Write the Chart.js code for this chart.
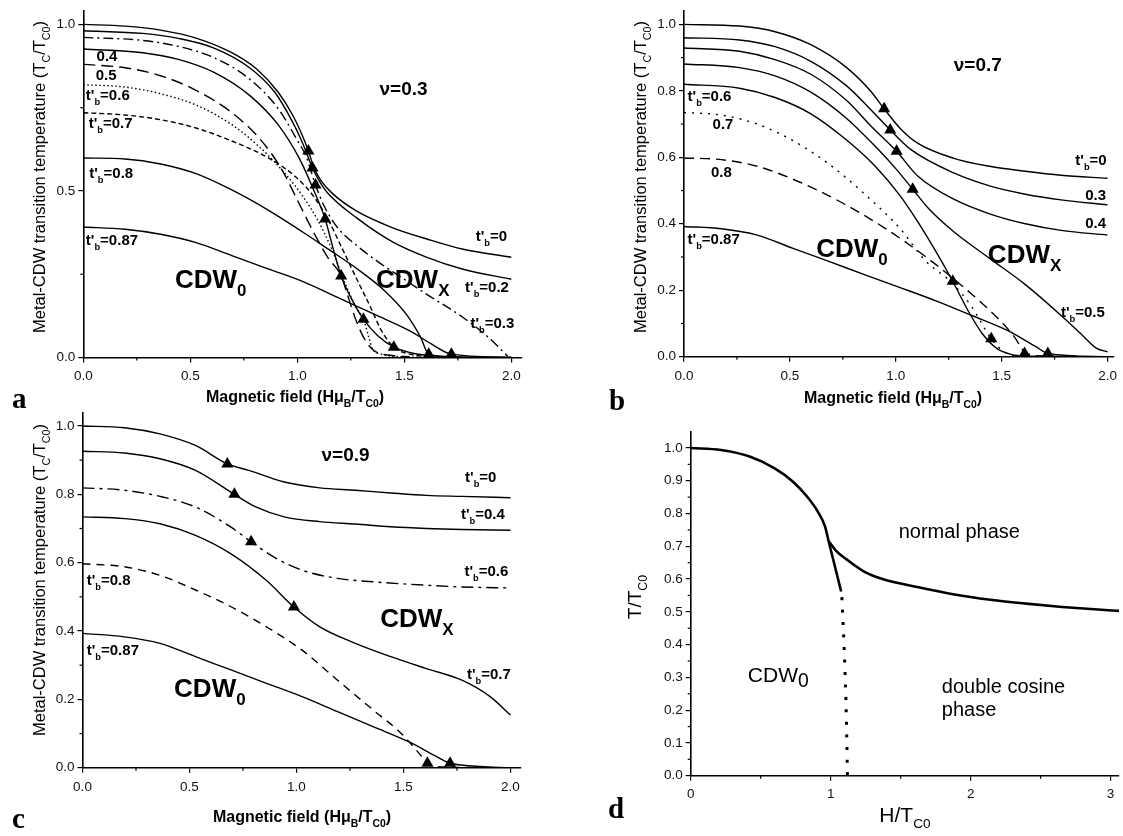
<!DOCTYPE html>
<html><head><meta charset="utf-8">
<script src="https://cdn.jsdelivr.net/npm/chart.js@4.4.1/dist/chart.umd.min.js"></script>
<style>
html,body{margin:0;padding:0;background:#fff;width:1123px;height:836px;overflow:hidden}
canvas{position:absolute;left:0;top:0}
</style></head><body>
<canvas id="ca" width="1123" height="836"></canvas>
<canvas id="cb" width="1123" height="836"></canvas>
<canvas id="cc" width="1123" height="836"></canvas>
<canvas id="cd" width="1123" height="836"></canvas>
<script>
// ---------- DATA ----------
// Panel a (nu = 0.3)
const A_XTICKS = [0, 0.5, 1.0, 1.5, 2.0];
const A_XMINOR = [0.25, 0.75, 1.25, 1.75];
const A_YTICKS = [0, 0.5, 1.0];
const A_YMINOR = [0.25, 0.75];
const A_TB0  = [[0,1.0],[0.195,0.995],[0.361,0.983],[0.527,0.959],[0.694,0.915],[0.81,0.866],[0.91,0.797],[0.978,0.728],[1.028,0.66],[1.052,0.62],[1.077,0.571],[1.11,0.532],[1.16,0.495],[1.276,0.44],[1.443,0.39],[1.609,0.355],[1.775,0.325],[2.0,0.301]];
const A_TB02 = [[0,0.981],[0.278,0.973],[0.444,0.958],[0.611,0.929],[0.777,0.87],[0.894,0.797],[0.977,0.708],[1.027,0.64],[1.071,0.569],[1.101,0.532],[1.143,0.493],[1.276,0.42],[1.443,0.348],[1.609,0.3],[1.775,0.265],[2.0,0.235]];
const A_TB03 = [[0,0.961],[0.278,0.952],[0.444,0.934],[0.611,0.9],[0.777,0.836],[0.91,0.748],[0.993,0.66],[1.043,0.601],[1.085,0.518],[1.126,0.454],[1.193,0.386],[1.276,0.337],[1.376,0.288],[1.492,0.238],[1.609,0.188],[1.775,0.12],[1.892,0.061],[1.983,0.004]];
const A_TB04 = [[0,0.926],[0.278,0.915],[0.444,0.895],[0.611,0.856],[0.777,0.787],[0.91,0.699],[1.01,0.597],[1.077,0.502],[1.13,0.416],[1.168,0.326],[1.205,0.245],[1.251,0.179],[1.309,0.115],[1.376,0.065],[1.451,0.031],[1.526,0.015],[1.614,0.006],[1.775,0.002],[2.0,0]];
const A_TB05 = [[0,0.88],[0.195,0.87],[0.361,0.846],[0.527,0.802],[0.694,0.735],[0.827,0.655],[0.927,0.565],[1.01,0.46],[1.077,0.375],[1.143,0.3],[1.205,0.245],[1.235,0.187],[1.276,0.109],[1.318,0.051],[1.36,0.02],[1.443,0.006],[1.526,0.002]];
const A_TB06 = [[0,0.819],[0.195,0.812],[0.361,0.792],[0.527,0.758],[0.694,0.699],[0.827,0.63],[0.943,0.552],[1.027,0.483],[1.093,0.415],[1.16,0.327],[1.226,0.219],[1.276,0.149],[1.309,0.115],[1.334,0.061],[1.351,0.026],[1.393,0.01],[1.443,0.004],[1.609,0]];
const A_TB07 = [[0,0.735],[0.195,0.728],[0.361,0.714],[0.527,0.689],[0.694,0.65],[0.86,0.601],[0.993,0.542],[1.077,0.483],[1.143,0.415],[1.21,0.327],[1.276,0.238],[1.343,0.15],[1.393,0.081],[1.451,0.031],[1.526,0.01],[1.609,0.002]];
const A_TB08 = [[0,0.599],[0.195,0.596],[0.361,0.581],[0.527,0.552],[0.694,0.503],[0.86,0.444],[1.027,0.376],[1.143,0.326],[1.276,0.268],[1.409,0.2],[1.509,0.13],[1.576,0.061],[1.614,0.01],[1.775,0],[2.0,0]];
const A_TB087 = [[0,0.392],[0.195,0.385],[0.361,0.37],[0.527,0.345],[0.694,0.306],[0.86,0.267],[1.027,0.228],[1.193,0.179],[1.359,0.13],[1.526,0.08],[1.626,0.041],[1.72,0.01],[2.0,0]];
const A_TRI = [[1.052,0.62],[1.071,0.569],[1.085,0.518],[1.13,0.416],[1.205,0.245],[1.309,0.115],[1.451,0.031],[1.614,0.01],[1.72,0.01]];

// Panel b (nu = 0.7)
const B_XTICKS = [0, 0.5, 1.0, 1.5, 2.0];
const B_XMINOR = [0.25, 0.75, 1.25, 1.75];
const B_YTICKS = [0, 0.2, 0.4, 0.6, 0.8, 1.0];
const B_YMINOR = [0.1, 0.3, 0.5, 0.7, 0.9];
const B_TB0  = [[0,1.0],[0.262,0.995],[0.43,0.978],[0.599,0.939],[0.768,0.87],[0.886,0.796],[0.945,0.746],[1.021,0.687],[1.105,0.642],[1.274,0.597],[1.443,0.573],[1.612,0.558],[1.78,0.546],[2.0,0.537]];
const B_TB03 = [[0,0.96],[0.262,0.953],[0.43,0.933],[0.599,0.889],[0.768,0.815],[0.886,0.741],[0.974,0.682],[1.072,0.623],[1.274,0.553],[1.443,0.514],[1.612,0.489],[1.781,0.472],[2.0,0.457]];
const B_TB04 = [[0,0.929],[0.262,0.919],[0.43,0.894],[0.599,0.85],[0.768,0.771],[0.886,0.692],[1.004,0.618],[1.105,0.543],[1.274,0.474],[1.443,0.43],[1.612,0.4],[1.781,0.38],[2.0,0.366]];
const B_TB05 = [[0,0.881],[0.262,0.87],[0.43,0.845],[0.599,0.796],[0.768,0.717],[0.903,0.633],[1.004,0.563],[1.08,0.504],[1.156,0.445],[1.274,0.376],[1.443,0.296],[1.612,0.217],[1.781,0.124],[1.882,0.064],[1.949,0.025],[2.0,0.015]];
const B_TB06 = [[0,0.82],[0.262,0.808],[0.43,0.78],[0.599,0.731],[0.768,0.652],[0.903,0.573],[1.021,0.484],[1.105,0.405],[1.19,0.316],[1.269,0.227],[1.342,0.138],[1.409,0.069],[1.477,0.025],[1.544,0.007],[1.612,0.002],[2.0,0]];
const B_TB07 = [[0,0.735],[0.177,0.727],[0.346,0.70],[0.515,0.65],[0.684,0.58],[0.852,0.49],[1.021,0.385],[1.138,0.29],[1.269,0.22],[1.359,0.15],[1.451,0.054],[1.511,0.015],[1.561,0.004],[2.0,0]];
const B_TB08 = [[0,0.598],[0.177,0.593],[0.346,0.573],[0.515,0.534],[0.684,0.484],[0.852,0.425],[1.021,0.356],[1.19,0.277],[1.359,0.188],[1.477,0.119],[1.561,0.059],[1.608,0.015],[1.7,0.002],[2.0,0]];
const B_TB087 = [[0,0.392],[0.177,0.385],[0.346,0.366],[0.515,0.326],[0.684,0.287],[0.852,0.247],[1.021,0.208],[1.19,0.168],[1.359,0.124],[1.527,0.079],[1.662,0.03],[1.718,0.01],[2.0,0]];
const B_TRI = [[0.945,0.746],[0.974,0.682],[1.004,0.618],[1.08,0.504],[1.269,0.227],[1.451,0.054],[1.608,0.01],[1.718,0.01]];

// Panel c (nu = 0.9)
const C_XTICKS = [0, 0.5, 1.0, 1.5, 2.0];
const C_XMINOR = [0.25, 0.75, 1.25, 1.75];
const C_YTICKS = [0, 0.2, 0.4, 0.6, 0.8, 1.0];
const C_YMINOR = [0.1, 0.3, 0.5, 0.7, 0.9];
const C_TB0  = [[0,1.0],[0.196,0.995],[0.362,0.977],[0.528,0.943],[0.677,0.889],[0.777,0.87],[0.943,0.836],[1.109,0.819],[1.275,0.812],[1.441,0.804],[1.607,0.797],[1.773,0.794],[2.0,0.79]];
const C_TB04 = [[0,0.926],[0.196,0.921],[0.362,0.904],[0.528,0.87],[0.71,0.8],[0.81,0.763],[0.943,0.734],[1.109,0.72],[1.275,0.713],[1.441,0.705],[1.607,0.7],[1.773,0.697],[2.0,0.695]];
const C_TB06 = [[0,0.819],[0.196,0.812],[0.362,0.794],[0.528,0.763],[0.694,0.704],[0.788,0.661],[0.893,0.617],[1.026,0.578],[1.192,0.554],[1.358,0.544],[1.607,0.534],[1.773,0.529],[2.0,0.526]];
const C_TB07 = [[0,0.734],[0.196,0.729],[0.362,0.714],[0.528,0.68],[0.694,0.626],[0.86,0.548],[0.988,0.47],[1.109,0.412],[1.275,0.364],[1.441,0.325],[1.607,0.29],[1.773,0.256],[1.905,0.208],[2.0,0.154]];
const C_TB08 = [[0,0.597],[0.196,0.588],[0.362,0.563],[0.528,0.52],[0.694,0.471],[0.86,0.412],[1.026,0.344],[1.192,0.256],[1.358,0.169],[1.49,0.1],[1.573,0.042],[1.612,0.013],[1.7,0.002],[2.0,0]];
const C_TB087 = [[0,0.393],[0.196,0.383],[0.362,0.364],[0.528,0.325],[0.694,0.286],[0.86,0.247],[1.026,0.208],[1.192,0.164],[1.358,0.12],[1.524,0.076],[1.657,0.032],[1.718,0.013],[2.0,0]];
const C_TRI = [[0.677,0.889],[0.71,0.80],[0.788,0.661],[0.988,0.47],[1.612,0.013],[1.718,0.013]];

// Panel d (phase diagram)
const D_XTICKS = [0, 1, 2, 3];
const D_XMINOR = [0.5, 1.5, 2.5];
const D_YTICKS = [0, 0.1, 0.2, 0.3, 0.4, 0.5, 0.6, 0.7, 0.8, 0.9, 1.0];
const D_YMINOR = [0.05, 0.15, 0.25, 0.35, 0.45, 0.55, 0.65, 0.75, 0.85, 0.95];
const D_UPPER = [[0,1.0],[0.216,0.994],[0.421,0.974],[0.6,0.938],[0.729,0.898],[0.831,0.852],[0.908,0.806],[0.96,0.76],[0.985,0.716]];
const D_NORMAL = [[0.985,0.716],[1.037,0.687],[1.114,0.66],[1.242,0.622],[1.37,0.600],[1.627,0.575],[1.884,0.553],[2.14,0.537],[2.397,0.525],[2.653,0.515],[2.91,0.507],[3.06,0.503]];
const D_BRANCH = [[0.985,0.716],[1.075,0.562]];
const D_DOTTED = [[1.08,0.545],[1.1,0.35],[1.112,0.18],[1.12,0.0]];

// ---------- RENDERING ----------
const FAM = '"Liberation Sans", Arial, Helvetica, sans-serif';
const W = 1123, H = 836, YW = 50, XH = 30;

function parseRich(s){
  const parts=[]; const re=/_\{([^}]*)\}/g; let last=0, m;
  while((m=re.exec(s))){ if(m.index>last) parts.push({t:s.slice(last,m.index)}); parts.push({t:m[1],sub:true}); last=re.lastIndex; }
  if(last<s.length) parts.push({t:s.slice(last)});
  return parts;
}
function richW(ctx, parts, size, weight, subR){
  let w=0; for(const p of parts){ ctx.font=`${weight} ${p.sub?size*subR:size}px ${FAM}`; w+=ctx.measureText(p.t).width; } return w;
}
function drawRich(ctx, x, y, s, size, weight, subR, subDy, align){
  const parts=parseRich(s); let cx=x;
  if(align==='center') cx = x - richW(ctx,parts,size,weight,subR)/2;
  for(const p of parts){
    const sz=p.sub?size*subR:size;
    ctx.font=`${weight} ${sz}px ${FAM}`;
    ctx.fillText(p.t,cx,y+(p.sub?subDy*size:0));
    cx+=ctx.measureText(p.t).width;
  }
}

function buildPanel(id, P){
  const ds = P.curves.map(c => ({
    data: c.pts.map(p=>({x:p[0], y:p[1]})),
    borderColor:'#000', borderWidth: c.w || 1.4, borderDash: c.dash || [],
    borderCapStyle: c.cap || 'butt', borderJoinStyle:'round',
    pointRadius:0, fill:false, cubicInterpolationMode: c.straight ? 'default' : 'monotone', tension: 0
  }));
  if(P.tri) ds.push({
    data: P.tri.map(p=>({x:p[0], y:p[1]})), showLine:false,
    pointStyle:'triangle', pointRadius:7, pointBackgroundColor:'#000', pointBorderColor:'#000', pointBorderWidth:0
  });
  const decor = {
    id:'decor'+id,
    afterDraw(chart){
      const ctx=chart.ctx, a=chart.chartArea, xs=chart.scales.x, ys=chart.scales.y;
      ctx.save();
      ctx.strokeStyle='#000'; ctx.lineWidth=1.2;
      for(const v of P.xMinor){ const px=xs.getPixelForValue(v); ctx.beginPath(); ctx.moveTo(px,a.bottom); ctx.lineTo(px,a.bottom+3); ctx.stroke(); }
      for(const v of P.yMinor){ const py=ys.getPixelForValue(v); ctx.beginPath(); ctx.moveTo(a.left-3,py); ctx.lineTo(a.left,py); ctx.stroke(); }
      ctx.fillStyle='#000'; ctx.textBaseline='alphabetic'; ctx.textAlign='left';
      for(const L of P.labels){
        const px=xs.getPixelForValue(L.x); let py=ys.getPixelForValue(L.y);
        if(!L.base) py += 0.36*L.size;
        drawRich(ctx,px,py,L.s,L.size,L.w||'bold',L.subR||0.62,L.subDy||0.33,'left');
      }
      for(const T of P.titles){
        ctx.save(); ctx.translate(T.x,T.y); if(T.rot) ctx.rotate(-Math.PI/2);
        drawRich(ctx,0,0,T.s,T.size,T.w||'normal',T.subR||0.65,T.subDy||0.3,'center');
        ctx.restore();
      }
      ctx.font='bold 29px "Liberation Serif", "Times New Roman", serif';
      ctx.fillText(P.letter.t, P.letter.x, P.letter.y);
      ctx.restore();
    }
  };
  const A = P.area;
  return new Chart(document.getElementById(id), {
    type:'line',
    data:{datasets:ds},
    options:{
      responsive:false, animation:false, devicePixelRatio:1, events:[],
      layout:{padding:{left:A.l-YW, top:A.t, right:W-A.r, bottom:H-A.b-XH}},
      plugins:{legend:{display:false}, tooltip:{enabled:false}},
      scales:{
        x:{type:'linear', min:P.xmin, max:P.xmax,
           afterBuildTicks:s=>{ s.ticks=P.xTicks.map(v=>({value:v})); },
           afterFit:s=>{ s.height=XH; },
           grid:{display:true, drawOnChartArea:false, drawTicks:true, tickLength:5, color:'#000', lineWidth:1.2},
           border:{display:true, color:'#000', width:1.6},
           ticks:{font:{family:FAM, size:13.5}, color:'#111', padding:P.xPad||6, maxRotation:0, autoSkip:false,
                  callback:v=>Number(v).toFixed(P.xDec)}},
        y:{type:'linear', min:0, max:P.ymax,
           afterBuildTicks:s=>{ s.ticks=P.yTicks.map(v=>({value:v})); },
           afterFit:s=>{ s.width=YW; },
           grid:{display:true, drawOnChartArea:false, drawTicks:true, tickLength:5, color:'#000', lineWidth:1.2},
           border:{display:true, color:'#000', width:1.6},
           ticks:{font:{family:FAM, size:13.5}, color:'#111', padding:3, autoSkip:false,
                  callback:v=>Number(v).toFixed(1)}}
      }
    },
    plugins:[decor]
  });
}

const XT_TITLE = 'Magnetic field (Hμ_{B}/T_{C0})';
const YT_TITLE = 'Metal-CDW transition temperature (T_{C}/T_{C0})';

buildPanel('ca', {
  area:{l:83.3, t:4.1, r:522, b:357.5}, xmin:0, xmax:2.05, ymax:1.04, xDec:1,
  xTicks:A_XTICKS, xMinor:A_XMINOR, yTicks:A_YTICKS, yMinor:A_YMINOR,
  curves:[
    {pts:A_TB0},{pts:A_TB02},{pts:A_TB03, dash:[10,4,2,4]},{pts:A_TB04},
    {pts:A_TB05, dash:[12,6]},{pts:A_TB06, dash:[1.5,2.5]},{pts:A_TB07, dash:[5,3]},
    {pts:A_TB08},{pts:A_TB087}
  ],
  tri:A_TRI,
  labels:[
    {x:0.062,y:0.905,s:'0.4',size:15},{x:0.058,y:0.848,s:'0.5',size:15},
    {x:0.012,y:0.789,s:"t'_{b}=0.6",size:15},{x:0.025,y:0.704,s:"t'_{b}=0.7",size:15},
    {x:0.028,y:0.556,s:"t'_{b}=0.8",size:15},{x:0.012,y:0.353,s:"t'_{b}=0.87",size:15},
    {x:1.834,y:0.365,s:"t'_{b}=0",size:15},{x:1.784,y:0.213,s:"t'_{b}=0.2",size:15},
    {x:1.809,y:0.105,s:"t'_{b}=0.3",size:15},
    {x:1.384,y:0.809,s:'ν=0.3',size:19},
    {x:0.428,y:0.237,s:'CDW_{0}',size:26,subR:0.65,subDy:0.3},
    {x:1.368,y:0.237,s:'CDW_{X}',size:26,subR:0.65,subDy:0.3}
  ],
  titles:[
    {x:295,y:401.7,s:XT_TITLE,size:16,w:'bold'},
    {x:45,y:177,s:YT_TITLE,size:16.5,rot:true}
  ],
  letter:{t:'a',x:12,y:408}
});

buildPanel('cb', {
  area:{l:684, t:5.8, r:1116.2, b:356.7}, xmin:0, xmax:2.03, ymax:1.04, xDec:1,
  xTicks:B_XTICKS, xMinor:B_XMINOR, yTicks:B_YTICKS, yMinor:B_YMINOR,
  curves:[
    {pts:B_TB0},{pts:B_TB03},{pts:B_TB04},{pts:B_TB05},{pts:B_TB06},
    {pts:B_TB07, dash:[2,6]},{pts:B_TB08, dash:[10,6]},{pts:B_TB087}
  ],
  tri:B_TRI,
  labels:[
    {x:1.274,y:0.881,s:'ν=0.7',size:19},
    {x:0.017,y:0.786,s:"t'_{b}=0.6",size:15},{x:0.135,y:0.702,s:'0.7',size:15},
    {x:0.127,y:0.558,s:'0.8',size:15},{x:0.017,y:0.354,s:"t'_{b}=0.87",size:15},
    {x:1.848,y:0.593,s:"t'_{b}=0",size:15},{x:1.895,y:0.487,s:'0.3',size:15},
    {x:1.895,y:0.403,s:'0.4',size:15},{x:1.78,y:0.135,s:"t'_{b}=0.5",size:15},
    {x:0.624,y:0.329,s:'CDW_{0}',size:26,subR:0.65,subDy:0.3},
    {x:1.435,y:0.311,s:'CDW_{X}',size:26,subR:0.65,subDy:0.3}
  ],
  titles:[
    {x:893,y:403,s:XT_TITLE,size:16,w:'bold'},
    {x:646,y:177,s:YT_TITLE,size:16.5,rot:true}
  ],
  letter:{t:'b',x:609,y:410}
});

buildPanel('cc', {
  area:{l:82.5, t:413, r:520.3, b:767.7}, xmin:0, xmax:2.046, ymax:1.038, xDec:1,
  xTicks:C_XTICKS, xMinor:C_XMINOR, yTicks:C_YTICKS, yMinor:C_YMINOR,
  curves:[
    {pts:C_TB0},{pts:C_TB04},{pts:C_TB06, dash:[12,5,3,5]},{pts:C_TB07},
    {pts:C_TB08, dash:[8,6]},{pts:C_TB087}
  ],
  tri:C_TRI,
  labels:[
    {x:1.117,y:0.919,s:'ν=0.9',size:19},
    {x:1.788,y:0.851,s:"t'_{b}=0",size:15},{x:1.769,y:0.744,s:"t'_{b}=0.4",size:15},
    {x:1.785,y:0.578,s:"t'_{b}=0.6",size:15},{x:0.02,y:0.551,s:"t'_{b}=0.8",size:15},
    {x:0.02,y:0.346,s:"t'_{b}=0.87",size:15},{x:1.797,y:0.276,s:"t'_{b}=0.7",size:15},
    {x:1.391,y:0.44,s:'CDW_{X}',size:26,subR:0.65,subDy:0.3},
    {x:0.428,y:0.235,s:'CDW_{0}',size:26,subR:0.65,subDy:0.3}
  ],
  titles:[
    {x:302,y:821.7,s:XT_TITLE,size:16,w:'bold'},
    {x:45,y:580,s:YT_TITLE,size:16.5,rot:true}
  ],
  letter:{t:'c',x:12,y:828}
});

buildPanel('cd', {
  area:{l:690.7, t:431.6, r:1119, b:775.7}, xmin:0, xmax:3.06, ymax:1.05, xDec:0, xPad:5,
  xTicks:D_XTICKS, xMinor:D_XMINOR, yTicks:D_YTICKS, yMinor:D_YMINOR,
  curves:[
    {pts:D_UPPER, w:2.6},{pts:D_NORMAL, w:2.6},{pts:D_BRANCH, w:2.6, straight:true},
    {pts:D_DOTTED, w:3, dash:[3,9.5]}
  ],
  labels:[
    {x:1.486,y:0.724,s:'normal phase',size:20,w:'normal',base:true},
    {x:0.408,y:0.287,s:'CDW_{0}',size:21,w:'normal',subR:0.92,subDy:0.25,base:true},
    {x:1.794,y:0.253,s:'double cosine',size:20,w:'normal',base:true},
    {x:1.794,y:0.182,s:'phase',size:20,w:'normal',base:true}
  ],
  titles:[
    {x:905,y:822,s:'H/T_{C0}',size:21},
    {x:641,y:597,s:'T/T_{C0}',size:19,rot:true}
  ],
  letter:{t:'d',x:608,y:818}
});
</script>
</body></html>
